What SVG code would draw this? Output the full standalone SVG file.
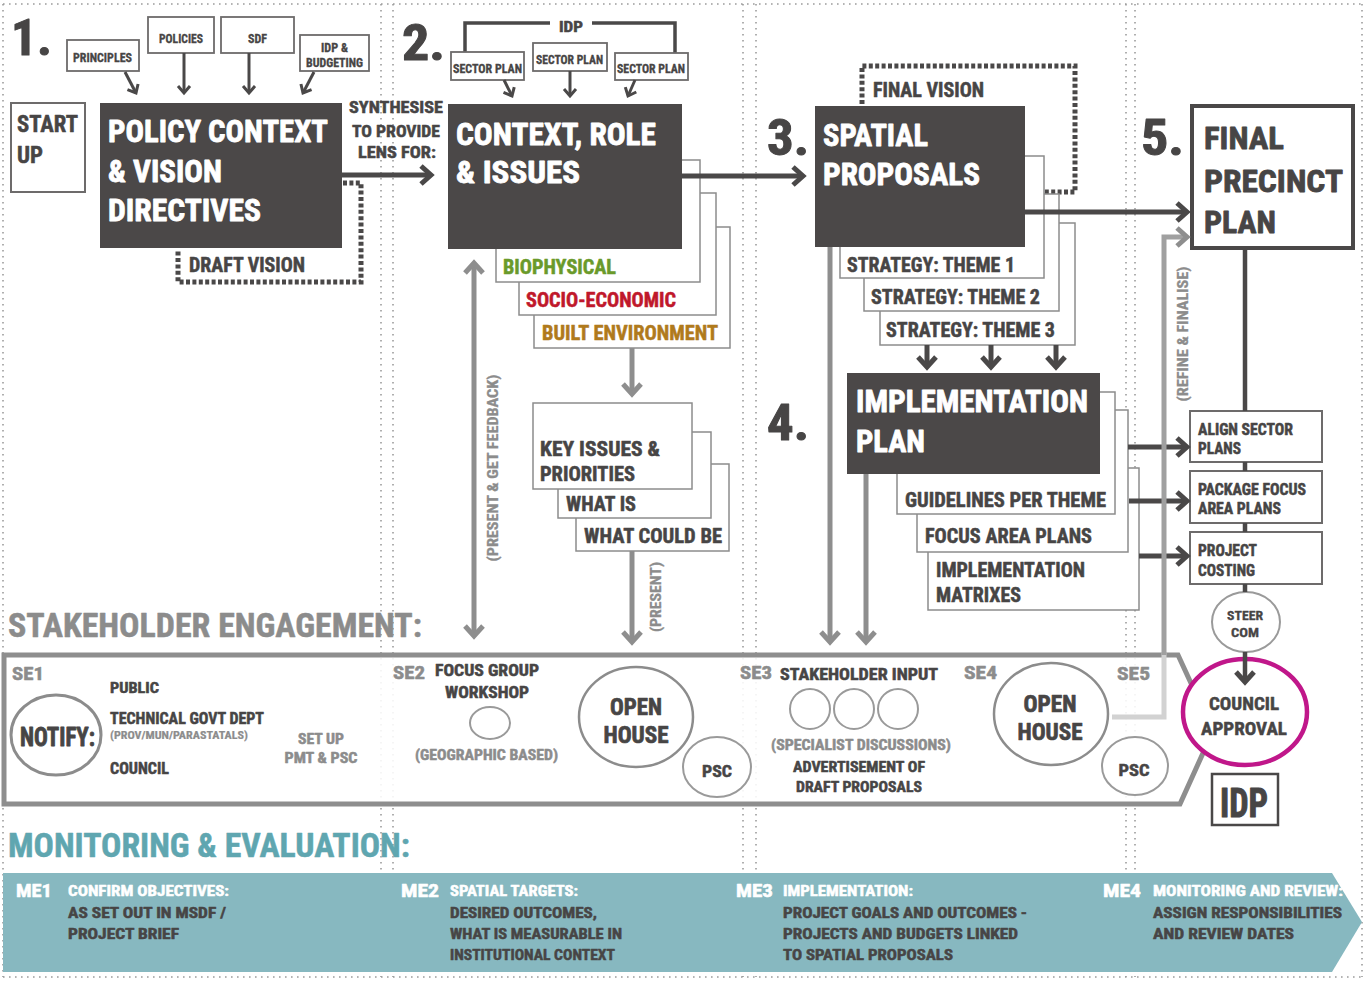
<svg xmlns="http://www.w3.org/2000/svg" width="1370" height="983" viewBox="0 0 1370 983">
<defs>
<style>
text{font-family:"Liberation Sans Narrow","Roboto Condensed","DejaVu Sans Condensed","Liberation Sans",sans-serif;font-weight:bold;fill:#474545;stroke:#474545;stroke-width:0.5px;stroke-linejoin:round}
.w{fill:#fff;stroke:#fff}
.g{fill:#8c8c8c;stroke:#8c8c8c}
.grn{fill:#6a9a2a;stroke:#6a9a2a}
.red{fill:#c0182b;stroke:#c0182b}
.brn{fill:#b07a1c;stroke:#b07a1c}
.teal{fill:#5fa6b0;stroke:#5fa6b0}
.dk{fill:#4b4848}
.sheet{fill:#fff;stroke:#8c8c8c;stroke-width:1.5}
.box{fill:#fff;stroke:#6d6b6b;stroke-width:1.8}
.sep{fill:none;stroke:#9c9c9c;stroke-width:1.6;stroke-dasharray:1.6 4.4}
.dots{fill:none;stroke:#4a4848;stroke-width:5;stroke-dasharray:4 2.4}
.ad{fill:none;stroke:#4a4848;stroke-width:5;marker-end:url(#hd)}
.as{fill:none;stroke:#4a4848;stroke-width:3;marker-end:url(#hs)}
.ag{fill:none;stroke:#8e8e8e;stroke-width:5;marker-end:url(#hg)}
.num{font-size:50px;stroke-width:1px}
.h1{font-size:31px;stroke-width:0.8px}
.h2{font-size:20px}
.sm{font-size:13px;stroke-width:0.3px}
.rb{font-size:16px}
.se{font-size:18px}
.me{font-size:15px}
.mel{font-size:18px}
.vt{font-size:14px;stroke-width:0.3px}
</style>
<marker id="hd" viewBox="0 0 24 24" refX="13" refY="12" markerWidth="24" markerHeight="24" markerUnits="userSpaceOnUse" orient="auto">
<path d="M3,3 L13,12 L3,21" fill="none" stroke="#4a4848" stroke-width="5"/>
</marker>
<marker id="hs" viewBox="0 0 16 16" refX="9" refY="8" markerWidth="16" markerHeight="16" markerUnits="userSpaceOnUse" orient="auto">
<path d="M2,2 L9,8 L2,14" fill="none" stroke="#4a4848" stroke-width="3"/>
</marker>
<marker id="hg" viewBox="0 0 24 24" refX="13" refY="12" markerWidth="24" markerHeight="24" markerUnits="userSpaceOnUse" orient="auto-start-reverse">
<path d="M3,3 L13,12 L3,21" fill="none" stroke="#8e8e8e" stroke-width="5"/>
</marker>
</defs>

<rect width="1370" height="983" fill="#fff"/>

<!-- column separators -->
<g id="grid">
<path class="sep" d="M3,4 V977 M381,4 V977 M393,4 V977 M743,4 V977 M756,4 V977 M1126,4 V977 M1135,4 V977 M1362,4 V977 M3,4 H1362 M3,977 H1362"/>
</g>

<!-- stakeholder engagement band -->
<g id="stakeholder-band">
<text x="8" y="637" style="font-size:33px" class="g" textLength="414" lengthAdjust="spacingAndGlyphs">STAKEHOLDER ENGAGEMENT:</text>
<polygon points="4,655 1178,655 1213,731 1180,804 4,804" fill="#fff" fill-opacity="0.88" stroke="#8e8e8e" stroke-width="5"/>
</g>

<!-- monitoring band -->
<g id="monitoring-band">
<text x="8" y="857" style="font-size:33px" class="teal" textLength="402" lengthAdjust="spacingAndGlyphs">MONITORING &amp; EVALUATION:</text>
<polygon points="3,873 1332,873 1362,922 1332,972 3,972" fill="#87b8c0"/>
</g>

<!-- stage 1 -->
<g id="n-num1"><text x="11" y="55" class="num" textLength="41" lengthAdjust="spacingAndGlyphs">1.</text></g>
<g id="n-principles"><rect class="box" x="67" y="40" width="72" height="31"/><text x="73" y="62" class="sm" textLength="59" lengthAdjust="spacingAndGlyphs">PRINCIPLES</text></g>
<g id="n-policies"><rect class="box" x="148" y="17" width="66" height="36"/><text x="159" y="43" class="sm" textLength="44" lengthAdjust="spacingAndGlyphs">POLICIES</text></g>
<g id="n-sdf"><rect class="box" x="221" y="17" width="73" height="36"/><text x="248" y="43" class="sm" textLength="19" lengthAdjust="spacingAndGlyphs">SDF</text></g>
<g id="n-idp-budget"><rect class="box" x="300" y="35" width="69" height="36"/><text x="321" y="52" class="sm" style="font-size:12px" textLength="27" lengthAdjust="spacingAndGlyphs">IDP &amp;</text><text x="306" y="67" class="sm" style="font-size:12px" textLength="57" lengthAdjust="spacingAndGlyphs">BUDGETING</text></g>
<g id="n-start"><rect class="box" x="11" y="103" width="74" height="89" style="stroke-width:2"/><text x="17" y="132" style="font-size:23px" textLength="61" lengthAdjust="spacingAndGlyphs">START</text><text x="17" y="163" style="font-size:23px" textLength="26" lengthAdjust="spacingAndGlyphs">UP</text></g>
<g id="n-policy"><rect class="dk" x="100" y="103" width="242" height="145"/>
<text x="108" y="142" class="h1 w" textLength="220" lengthAdjust="spacingAndGlyphs">POLICY CONTEXT</text>
<text x="108" y="182" class="h1 w" textLength="114" lengthAdjust="spacingAndGlyphs">&amp; VISION</text>
<text x="108" y="221" class="h1 w" textLength="153" lengthAdjust="spacingAndGlyphs">DIRECTIVES</text></g>
<g id="n-draft-vision"><path class="dots" d="M343,183 H361 V282 H178 V250"/><text x="189" y="272" class="h2" textLength="116" lengthAdjust="spacingAndGlyphs">DRAFT VISION</text></g>
<g id="n-synth"><text x="396" y="113" text-anchor="middle" style="font-size:17px" textLength="94" lengthAdjust="spacingAndGlyphs">SYNTHESISE</text>
<text x="396" y="137" text-anchor="middle" style="font-size:17px" textLength="88" lengthAdjust="spacingAndGlyphs">TO PROVIDE</text>
<text x="397" y="158" text-anchor="middle" style="font-size:17px" textLength="78" lengthAdjust="spacingAndGlyphs">LENS FOR:</text></g>

<!-- stage 2 -->
<g id="n-num2"><text x="402" y="60" class="num" textLength="43" lengthAdjust="spacingAndGlyphs">2.</text></g>
<g id="n-idp-top"><path d="M465,53 V23 H550 M592,23 H675 V53" fill="none" stroke="#4a4848" stroke-width="3.5"/><text x="559" y="32" style="font-size:15px" textLength="24" lengthAdjust="spacingAndGlyphs">IDP</text></g>
<g id="n-sector1"><rect class="box" x="451" y="52" width="73" height="28"/><text x="453" y="73" class="sm" style="font-size:12px" textLength="69" lengthAdjust="spacingAndGlyphs">SECTOR PLAN</text></g>
<g id="n-sector2"><rect class="box" x="533" y="43" width="74" height="28"/><text x="536" y="64" class="sm" style="font-size:12px" textLength="67" lengthAdjust="spacingAndGlyphs">SECTOR PLAN</text></g>
<g id="n-sector3"><rect class="box" x="615" y="53" width="73" height="27"/><text x="617" y="73" class="sm" style="font-size:12px" textLength="68" lengthAdjust="spacingAndGlyphs">SECTOR PLAN</text></g>
<g id="n-context">
<rect class="sheet" x="534" y="227" width="196" height="121"/>
<rect class="sheet" x="519" y="193" width="197" height="122"/>
<rect class="sheet" x="496" y="160" width="204" height="122"/>
<rect class="dk" x="448" y="104" width="234" height="145"/>
<text x="456" y="145" class="h1 w" textLength="200" lengthAdjust="spacingAndGlyphs">CONTEXT, ROLE</text>
<text x="456" y="183" class="h1 w" textLength="124" lengthAdjust="spacingAndGlyphs">&amp; ISSUES</text>
<text x="503" y="274" class="h2 grn" textLength="113" lengthAdjust="spacingAndGlyphs">BIOPHYSICAL</text>
<text x="526" y="307" class="h2 red" textLength="150" lengthAdjust="spacingAndGlyphs">SOCIO-ECONOMIC</text>
<text x="542" y="340" class="h2 brn" textLength="176" lengthAdjust="spacingAndGlyphs">BUILT ENVIRONMENT</text>
</g>
<g id="n-key-issues">
<rect class="sheet" x="576" y="464" width="153" height="87"/>
<rect class="sheet" x="558" y="432" width="153" height="86"/>
<rect class="sheet" x="533" y="403" width="159" height="86"/>
<text x="540" y="456" class="h2" textLength="120" lengthAdjust="spacingAndGlyphs">KEY ISSUES &amp;</text>
<text x="540" y="481" class="h2" textLength="95" lengthAdjust="spacingAndGlyphs">PRIORITIES</text>
<text x="566" y="511" class="h2" textLength="70" lengthAdjust="spacingAndGlyphs">WHAT IS</text>
<text x="584" y="543" class="h2" textLength="138" lengthAdjust="spacingAndGlyphs">WHAT COULD BE</text>
</g>

<!-- stage 3 -->
<g id="n-num3"><text x="767" y="155" class="num" textLength="42" lengthAdjust="spacingAndGlyphs">3.</text></g>
<g id="n-final-vision"><path class="dots" d="M862,104 V66 H1075 V192 H1027"/><text x="873" y="97" class="h2" textLength="111" lengthAdjust="spacingAndGlyphs">FINAL VISION</text></g>
<g id="n-spatial">
<rect class="sheet" x="880" y="223" width="195" height="122"/>
<rect class="sheet" x="864" y="194" width="195" height="117"/>
<rect class="sheet" x="840" y="156" width="204" height="122"/>
<rect class="dk" x="815" y="106" width="210" height="141"/>
<text x="823" y="146" class="h1 w" textLength="105" lengthAdjust="spacingAndGlyphs">SPATIAL</text>
<text x="823" y="185" class="h1 w" textLength="157" lengthAdjust="spacingAndGlyphs">PROPOSALS</text>
<text x="847" y="272" class="h2" textLength="168" lengthAdjust="spacingAndGlyphs">STRATEGY: THEME 1</text>
<text x="871" y="304" class="h2" textLength="169" lengthAdjust="spacingAndGlyphs">STRATEGY: THEME 2</text>
<text x="886" y="337" class="h2" textLength="169" lengthAdjust="spacingAndGlyphs">STRATEGY: THEME 3</text>
</g>

<!-- stage 4 -->
<g id="n-num4"><text x="767" y="440" class="num" textLength="42" lengthAdjust="spacingAndGlyphs">4.</text></g>
<g id="n-implementation">
<rect class="sheet" x="928" y="468" width="211" height="142"/>
<rect class="sheet" x="917" y="410" width="211" height="142"/>
<rect class="sheet" x="897" y="392" width="218" height="122"/>
<rect class="dk" x="847" y="373" width="253" height="101"/>
<text x="856" y="412" class="h1 w" textLength="232" lengthAdjust="spacingAndGlyphs">IMPLEMENTATION</text>
<text x="856" y="452" class="h1 w" textLength="69" lengthAdjust="spacingAndGlyphs">PLAN</text>
<text x="905" y="507" class="h2" textLength="201" lengthAdjust="spacingAndGlyphs">GUIDELINES PER THEME</text>
<text x="925" y="543" class="h2" textLength="167" lengthAdjust="spacingAndGlyphs">FOCUS AREA PLANS</text>
<text x="936" y="577" class="h2" textLength="149" lengthAdjust="spacingAndGlyphs">IMPLEMENTATION</text>
<text x="936" y="602" class="h2" textLength="85" lengthAdjust="spacingAndGlyphs">MATRIXES</text>
</g>

<!-- stage 5 -->
<g id="n-num5"><text x="1141" y="155" class="num" textLength="43" lengthAdjust="spacingAndGlyphs">5.</text></g>
<g id="n-final-plan"><rect x="1192" y="106" width="161" height="142" fill="#fff" stroke="#4a4848" stroke-width="4"/>
<text x="1204" y="149" style="font-size:32px;stroke-width:0.8px" textLength="80" lengthAdjust="spacingAndGlyphs">FINAL</text>
<text x="1204" y="192" style="font-size:32px;stroke-width:0.8px" textLength="139" lengthAdjust="spacingAndGlyphs">PRECINCT</text>
<text x="1204" y="233" style="font-size:32px;stroke-width:0.8px" textLength="72" lengthAdjust="spacingAndGlyphs">PLAN</text></g>
<g id="n-align"><rect class="box" x="1190" y="411" width="132" height="51" style="stroke-width:2"/><text x="1198" y="435" class="rb" textLength="95" lengthAdjust="spacingAndGlyphs">ALIGN SECTOR</text><text x="1198" y="454" class="rb" textLength="43" lengthAdjust="spacingAndGlyphs">PLANS</text></g>
<g id="n-package"><rect class="box" x="1190" y="471" width="132" height="52" style="stroke-width:2"/><text x="1198" y="495" class="rb" textLength="108" lengthAdjust="spacingAndGlyphs">PACKAGE FOCUS</text><text x="1198" y="514" class="rb" textLength="83" lengthAdjust="spacingAndGlyphs">AREA PLANS</text></g>
<g id="n-costing"><rect class="box" x="1190" y="532" width="132" height="52" style="stroke-width:2"/><text x="1198" y="556" class="rb" textLength="59" lengthAdjust="spacingAndGlyphs">PROJECT</text><text x="1198" y="576" class="rb" textLength="57" lengthAdjust="spacingAndGlyphs">COSTING</text></g>
<g id="n-steer"><ellipse cx="1246" cy="622" rx="34" ry="30" fill="#fff" stroke="#9a9a9a" stroke-width="2"/><text x="1245" y="620" text-anchor="middle" class="sm" textLength="36" lengthAdjust="spacingAndGlyphs">STEER</text><text x="1245" y="637" text-anchor="middle" class="sm" textLength="28" lengthAdjust="spacingAndGlyphs">COM</text></g>
<g id="n-council"><ellipse cx="1245" cy="712" rx="62" ry="53" fill="#fff" stroke="#c0178a" stroke-width="4.5"/><text x="1244" y="710" text-anchor="middle" style="font-size:19px" textLength="70" lengthAdjust="spacingAndGlyphs">COUNCIL</text><text x="1244" y="735" text-anchor="middle" style="font-size:19px" textLength="86" lengthAdjust="spacingAndGlyphs">APPROVAL</text></g>
<g id="n-idp-final"><rect x="1212" y="774" width="66" height="51" fill="#fff" stroke="#4a4848" stroke-width="2.5"/><text x="1244" y="817" text-anchor="middle" style="font-size:40px;stroke-width:1px" textLength="48" lengthAdjust="spacingAndGlyphs">IDP</text></g>

<!-- stakeholder engagement items -->
<g id="n-se1">
<text x="12" y="680" class="se g" textLength="32" lengthAdjust="spacingAndGlyphs">SE1</text>
<ellipse cx="56" cy="735" rx="45" ry="40" fill="none" stroke="#8c8c8c" stroke-width="3"/>
<text x="20" y="746" style="font-size:25px;stroke-width:0.8px" textLength="75" lengthAdjust="spacingAndGlyphs">NOTIFY:</text>
<text x="110" y="693" style="font-size:15px" textLength="49" lengthAdjust="spacingAndGlyphs">PUBLIC</text>
<text x="110" y="724" style="font-size:16px" textLength="154" lengthAdjust="spacingAndGlyphs">TECHNICAL GOVT DEPT</text>
<text x="110" y="739" class="g" style="font-size:10px;stroke-width:0.2px" textLength="138" lengthAdjust="spacingAndGlyphs">(PROV/MUN/PARASTATALS)</text>
<text x="110" y="774" style="font-size:16px" textLength="59" lengthAdjust="spacingAndGlyphs">COUNCIL</text>
<text x="321" y="744" text-anchor="middle" class="g" style="font-size:15px" textLength="46" lengthAdjust="spacingAndGlyphs">SET UP</text>
<text x="321" y="763" text-anchor="middle" class="g" style="font-size:15px" textLength="73" lengthAdjust="spacingAndGlyphs">PMT &amp; PSC</text>
</g>
<g id="n-se2">
<text x="393" y="679" class="se g" textLength="32" lengthAdjust="spacingAndGlyphs">SE2</text>
<text x="435" y="676" style="font-size:16px" textLength="104" lengthAdjust="spacingAndGlyphs">FOCUS GROUP</text>
<text x="445" y="698" style="font-size:16px" textLength="84" lengthAdjust="spacingAndGlyphs">WORKSHOP</text>
<ellipse cx="490" cy="723" rx="20" ry="16" fill="none" stroke="#9a9a9a" stroke-width="2"/>
<text x="415" y="760" class="g" style="font-size:15px" textLength="143" lengthAdjust="spacingAndGlyphs">(GEOGRAPHIC BASED)</text>
<ellipse cx="636" cy="717" rx="57" ry="50" fill="#fff" stroke="#8c8c8c" stroke-width="2.5"/>
<text x="636" y="715" text-anchor="middle" style="font-size:24px;stroke-width:0.7px" textLength="52" lengthAdjust="spacingAndGlyphs">OPEN</text>
<text x="636" y="743" text-anchor="middle" style="font-size:24px;stroke-width:0.7px" textLength="65" lengthAdjust="spacingAndGlyphs">HOUSE</text>
<ellipse cx="717" cy="767" rx="34" ry="30" fill="#fff" stroke="#9a9a9a" stroke-width="2"/>
<text x="717" y="777" text-anchor="middle" style="font-size:17px" textLength="30" lengthAdjust="spacingAndGlyphs">PSC</text>
</g>
<g id="n-se3">
<text x="740" y="679" class="se g" textLength="32" lengthAdjust="spacingAndGlyphs">SE3</text>
<text x="780" y="680" style="font-size:16px" textLength="158" lengthAdjust="spacingAndGlyphs">STAKEHOLDER INPUT</text>
<circle cx="810" cy="709" r="20" fill="none" stroke="#9a9a9a" stroke-width="2"/>
<circle cx="854" cy="709" r="20" fill="none" stroke="#9a9a9a" stroke-width="2"/>
<circle cx="898" cy="709" r="20" fill="none" stroke="#9a9a9a" stroke-width="2"/>
<text x="861" y="750" text-anchor="middle" class="g" style="font-size:15px" textLength="180" lengthAdjust="spacingAndGlyphs">(SPECIALIST DISCUSSIONS)</text>
<text x="859" y="772" text-anchor="middle" style="font-size:15px" textLength="132" lengthAdjust="spacingAndGlyphs">ADVERTISEMENT OF</text>
<text x="859" y="792" text-anchor="middle" style="font-size:15px" textLength="126" lengthAdjust="spacingAndGlyphs">DRAFT PROPOSALS</text>
</g>
<g id="n-se4">
<text x="964" y="679" class="se g" textLength="33" lengthAdjust="spacingAndGlyphs">SE4</text>
<ellipse cx="1051" cy="714" rx="57" ry="51" fill="#fff" stroke="#8c8c8c" stroke-width="2.5"/>
<text x="1050" y="712" text-anchor="middle" style="font-size:24px;stroke-width:0.7px" textLength="53" lengthAdjust="spacingAndGlyphs">OPEN</text>
<text x="1050" y="740" text-anchor="middle" style="font-size:24px;stroke-width:0.7px" textLength="65" lengthAdjust="spacingAndGlyphs">HOUSE</text>
</g>
<g id="n-se5">
<text x="1117" y="680" class="se g" textLength="33" lengthAdjust="spacingAndGlyphs">SE5</text>
<ellipse cx="1135" cy="766" rx="33" ry="29" fill="#fff" stroke="#9a9a9a" stroke-width="2"/>
<text x="1134" y="776" text-anchor="middle" style="font-size:17px" textLength="31" lengthAdjust="spacingAndGlyphs">PSC</text>
</g>

<!-- monitoring items -->
<g id="n-me1">
<text x="16" y="897" class="mel w" textLength="36" lengthAdjust="spacingAndGlyphs">ME1</text>
<text x="68" y="896" class="me w" textLength="161" lengthAdjust="spacingAndGlyphs">CONFIRM OBJECTIVES:</text>
<text x="68" y="918" class="me" textLength="158" lengthAdjust="spacingAndGlyphs">AS SET OUT IN MSDF /</text>
<text x="68" y="939" class="me" textLength="111" lengthAdjust="spacingAndGlyphs">PROJECT BRIEF</text>
</g>
<g id="n-me2">
<text x="401" y="897" class="mel w" textLength="38" lengthAdjust="spacingAndGlyphs">ME2</text>
<text x="450" y="896" class="me w" textLength="128" lengthAdjust="spacingAndGlyphs">SPATIAL TARGETS:</text>
<text x="450" y="918" class="me" textLength="147" lengthAdjust="spacingAndGlyphs">DESIRED OUTCOMES,</text>
<text x="450" y="939" class="me" textLength="172" lengthAdjust="spacingAndGlyphs">WHAT IS MEASURABLE IN</text>
<text x="450" y="960" class="me" textLength="165" lengthAdjust="spacingAndGlyphs">INSTITUTIONAL CONTEXT</text>
</g>
<g id="n-me3">
<text x="736" y="897" class="mel w" textLength="37" lengthAdjust="spacingAndGlyphs">ME3</text>
<text x="783" y="896" class="me w" textLength="130" lengthAdjust="spacingAndGlyphs">IMPLEMENTATION:</text>
<text x="783" y="918" class="me" textLength="244" lengthAdjust="spacingAndGlyphs">PROJECT GOALS AND OUTCOMES -</text>
<text x="783" y="939" class="me" textLength="235" lengthAdjust="spacingAndGlyphs">PROJECTS AND BUDGETS LINKED</text>
<text x="783" y="960" class="me" textLength="170" lengthAdjust="spacingAndGlyphs">TO SPATIAL PROPOSALS</text>
</g>
<g id="n-me4">
<text x="1103" y="897" class="mel w" textLength="38" lengthAdjust="spacingAndGlyphs">ME4</text>
<text x="1153" y="896" class="me w" textLength="190" lengthAdjust="spacingAndGlyphs">MONITORING AND REVIEW:</text>
<text x="1153" y="918" class="me" textLength="189" lengthAdjust="spacingAndGlyphs">ASSIGN RESPONSIBILITIES</text>
<text x="1153" y="939" class="me" textLength="141" lengthAdjust="spacingAndGlyphs">AND REVIEW DATES</text>
</g>

<!-- connectors -->
<g id="connectors">
<!-- inputs into policy context -->
<path class="as" d="M125,72 L136,93"/>
<path class="as" d="M184,53 V93"/>
<path class="as" d="M249,53 V93"/>
<path class="as" d="M314,72 L303,93"/>
<!-- sector plans into context -->
<path class="as" d="M504,80 L512,96"/>
<path class="as" d="M570,71 V96"/>
<path class="as" d="M635,80 L628,96"/>
<!-- main flow -->
<path class="ad" d="M342,175 H431"/>
<path class="ad" d="M682,176 H803"/>
<path class="ad" d="M1025,212 H1187"/>
<path class="ad" d="M927,345 V367"/>
<path class="ad" d="M991,345 V367"/>
<path class="ad" d="M1056,345 V367"/>
<path class="ad" d="M1128,447 H1187"/>
<path class="ad" d="M1129,501 H1187"/>
<path class="ad" d="M1139,556 H1187"/>
<!-- final plan column -->
<path d="M1245,248 V411 M1245,462 V471 M1245,523 V532 M1245,584 V592" fill="none" stroke="#4a4848" stroke-width="4.5"/>
<path class="ad" d="M1245,652 V682" style="stroke-width:4.5"/>
<!-- presentation arrows -->
<path class="ag" d="M632,348 V394"/>
<path class="ag" d="M632,551 V642"/>
<path class="ag" d="M474,263 V636" style="marker-start:url(#hg)"/>
<path class="ag" d="M830,247 V642"/>
<path class="ag" d="M866,474 V642"/>
<!-- refine and finalise -->
<path d="M1112,717 H1164 V653" fill="none" stroke="#d2d2d2" stroke-width="5"/>
<path class="ag" d="M1164,655 V237 H1187" style="stroke:#a0a0a0"/>
<text transform="translate(498,468) rotate(-90)" text-anchor="middle" class="vt g" textLength="187" lengthAdjust="spacingAndGlyphs">(PRESENT &amp; GET FEEDBACK)</text>
<text transform="translate(661,597) rotate(-90)" text-anchor="middle" class="vt g" textLength="70" lengthAdjust="spacingAndGlyphs">(PRESENT)</text>
<text transform="translate(1188,334) rotate(-90)" text-anchor="middle" class="vt g" textLength="135" lengthAdjust="spacingAndGlyphs">(REFINE &amp; FINALISE)</text>
</g>
</svg>
